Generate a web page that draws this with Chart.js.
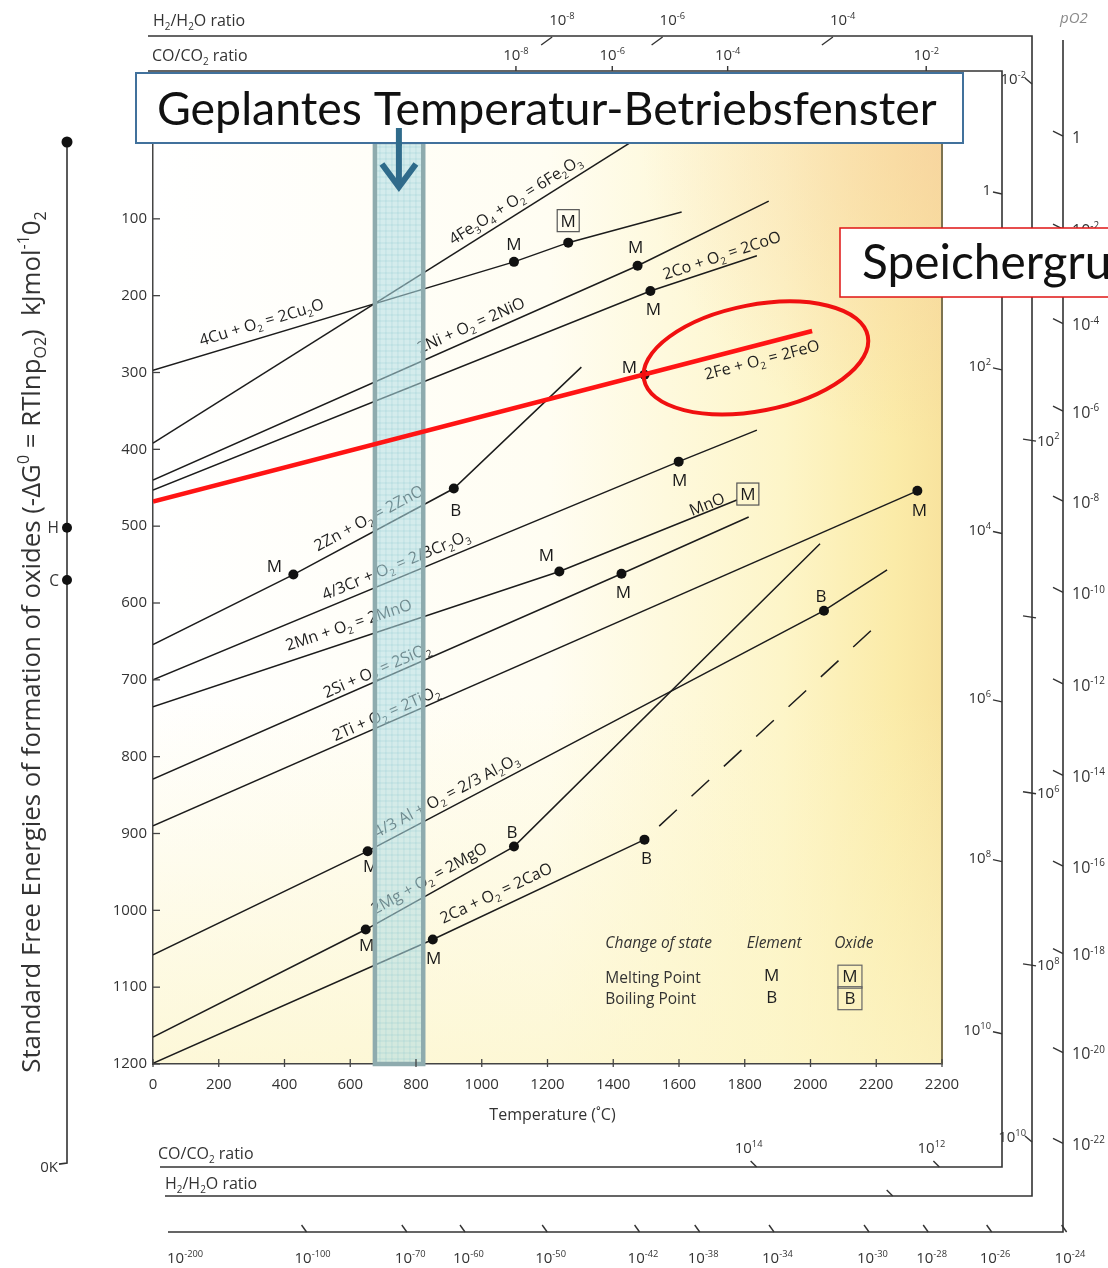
<!DOCTYPE html>
<html>
<head>
<meta charset="utf-8">
<script src="https://cdn.jsdelivr.net/npm/chart.js@4.4.1/dist/chart.umd.min.js"></script>
<style>
  html, body { margin: 0; padding: 0; background: #fff; }
  #wrap { width: 1108px; height: 1268px; }
</style>
</head>
<body>
<div id="wrap"><canvas id="c" width="1108" height="1268"></canvas></div>
<script>
"use strict";

// ---- data (temperature °C, -ΔG kJ/mol O2) ----
const xTicks = [0, 200, 400, 600, 800, 1000, 1200, 1400, 1600, 1800, 2000, 2200, 2400];
const xTickLabels = ["0", "200", "400", "600", "800", "1000", "1200", "1400", "1600", "1800", "2000", "2200", "2200"];
const yTicks = [0, 100, 200, 300, 400, 500, 600, 700, 800, 900, 1000, 1100, 1200];

const cu = [[0, 297], [1098, 156], [1263, 131], [1608, 91]];
const fe3o4 = [[0, 392], [1492, -10]];
const ni = [[0, 440], [1474, 161], [1873, 77]];
const co = [[0, 453], [1513, 194], [1837, 148]];
const feo = [[0, 468], [2005, 246]];
const zn = [[0, 654], [427, 563], [915, 451], [1303, 293]];
const cr = [[0, 700], [1599, 416], [1837, 375]];
const mn = [[0, 735], [1236, 559], [1776, 466]];
const si = [[0, 829], [1425, 562], [1812, 488]];
const ti = [[0, 890], [2325, 454]];
const al = [[0, 1058], [653, 923], [2041, 610], [2233, 557]];
const mg = [[0, 1165], [647, 1025], [1098, 917], [2029, 523]];
const ca = [[0, 1199], [851, 1038], [1495, 908]];
const caGas = [[1495, 908], [2227, 619]];

// change-of-state points: T, G, tag, boxed (oxide), has dot
const changePoints = [
  [1098, 156, "M", 0, 1], [1263, 131, "M", 1, 1], [1474, 161, "M", 0, 1], [1513, 194, "M", 0, 1],
  [1495, 303, "M", 0, 1], [427, 563, "M", 0, 1], [915, 451, "B", 0, 1], [1599, 416, "M", 0, 1],
  [1236, 559, "M", 0, 1], [1425, 562, "M", 0, 1], [1776, 466, "M", 1, 0], [2325, 454, "M", 0, 1],
  [653, 923, "M", 0, 1], [2041, 610, "B", 0, 1], [647, 1025, "M", 0, 1], [1098, 917, "B", 0, 1],
  [851, 1038, "M", 0, 1], [1495, 908, "B", 0, 1],
];
const tagOffsets = [
  [0, -18], [0, -22], [-2, -19], [3, 18], [-15, -8], [-19, -9], [2, 21], [1, 18],
  [-13, -17], [2, 18], [11, -6], [2, 19], [3, 15], [-3, -15], [1, 15], [-2, -15],
  [1, 18], [2, 18],
];

// reaction labels: text, T, G of label centre, line it follows
const reactions = [
  ["4Cu + O_{2} = 2Cu_{2}O", 330, 234, cu],
  ["4Fe_{3}O_{4} + O_{2} = 6Fe_{2}O_{3}", 1101, 75, fe3o4],
  ["2Ni + O_{2} = 2NiO", 967, 238, ni],
  ["2Co + O_{2} = 2CoO", 1730, 147, co],
  ["2Fe + O_{2} = 2FeO", 1852, 283, feo],
  ["2Zn + O_{2} = 2ZnO", 656, 489, zn],
  ["4/3Cr + O_{2} = 2/3Cr_{2}O_{3}", 738, 550, cr],
  ["2Mn + O_{2} = 2MnO", 595, 628, mn],
  ["MnO", 1685, 471, mn],
  ["2Si + O_{2} = 2SiO_{2}", 680, 687, si],
  ["2Ti + O_{2} = 2TiO_{2}", 708, 743, ti],
  ["4/3 Al + O_{2} = 2/3 Al_{2}O_{3}", 891, 850, al],
  ["2Mg + O_{2} = 2MgO", 839, 958, mg],
  ["2Ca + O_{2} = 2CaO", 1043, 977, ca],
];

// nomographic scales (positions along the frames in T or G units)
const h2TopExp = ["-8", "-6", "-4"];
const h2TopT = [1205, 1541, 2059];
const coTopExp = ["-8", "-6", "-4", "-2"];
const coTopT = [1104, 1397, 1748, 2352];
const coBottomExp = ["14", "12"];
const coBottomT = [1830, 2386];
const h2BottomT = [2244];
const poBottomExp = ["-200", "-100", "-70", "-60", "-50", "-42", "-38", "-34", "-30", "-28", "-26", "-24"];
const poBottomT = [76, 464, 769, 946, 1196, 1477, 1660, 1886, 2175, 2355, 2548, 2776];
const coRightExp = ["", "2", "4", "6", "8", "10"];
const coRightG = [65, 294, 507, 726, 934, 1158];
const h2RightExp = ["-2", "2", "", "6", "8", "10"];
const h2RightG = [-78, 388, 618, 847, 1071, 1299];
const h2RightSide = ["L", "R", "R", "R", "R", "L"];
const poRightExp = ["", "-2", "-4", "-6", "-8", "-10", "-12", "-14", "-16", "-18", "-20", "-22"];
const poRightG = [-9, 112, 235, 349, 466, 585, 704, 823, 941, 1055, 1184, 1302];
const nomoTags = ["H", "C"];
const nomoG = [502, 570];
const nomoEndG = [0, 1329];

const legendHeads = ["Change of state", "Element", "Oxide"];
const legendHeadT = [1376, 1806, 2072];
const legendHeadG = 1042;
const legendRows = ["Melting Point", "Boiling Point"];
const legendRowG = [1087, 1115];
const legendTags = ["M", "B"];
const legendTagT = [1882, 2120];

const bandT = [675, 822];
const arrowT = 748;
const ellipseCenter = [1834, 281];

// ---- layout of decorations (pixels) ----
const frame = {
  h2Top: 36, coTop: 71, coRight: 1002, h2Right: 1032, poRight: 1063,
  coBottom: 1167, h2Bottom: 1196, poBottom: 1232, poTop: 40,
  nomoX: 67,
};

const FAM = '"Open Sans", "DejaVu Sans", sans-serif';
const INK = "#222";

const parseRich = (s) => {
  const out = [];
  const re = /([_^])\{([^}]*)\}/g;
  let last = 0, m;
  while ((m = re.exec(s))) {
    if (m.index > last) out.push({ t: s.slice(last, m.index), k: "" });
    out.push({ t: m[2], k: m[1] });
    last = re.lastIndex;
  }
  if (last < s.length) out.push({ t: s.slice(last), k: "" });
  return out;
};

const rich = (ctx, s, x, y, o = {}) => {
  const size = o.size || 15;
  const style = o.style || "";
  const fam = o.family || FAM;
  const runs = parseRich(s);
  const fontFor = (r) => `${style} ${r.k ? size * 0.62 : size}px ${fam}`;
  let w = 0;
  runs.forEach((r) => { ctx.font = fontFor(r); w += ctx.measureText(r.t).width; });
  ctx.save();
  ctx.translate(x, y);
  ctx.rotate(o.angle || 0);
  ctx.fillStyle = o.color || INK;
  ctx.textAlign = "left";
  ctx.textBaseline = "alphabetic";
  let cx = o.align === "center" ? -w / 2 : o.align === "right" ? -w : 0;
  const base = size * 0.36;
  runs.forEach((r) => {
    ctx.font = fontFor(r);
    const dy = r.k === "_" ? size * 0.24 : r.k === "^" ? -size * 0.42 : 0;
    ctx.fillText(r.t, cx, base + dy);
    cx += ctx.measureText(r.t).width;
  });
  ctx.restore();
  return w;
};

const pow = (e) => (e === "" ? "1" : `10^{${e}}`);

const line = (ctx, x1, y1, x2, y2) => {
  ctx.beginPath();
  ctx.moveTo(x1, y1);
  ctx.lineTo(x2, y2);
  ctx.stroke();
};

const slopeAngle = (chart, pts, t) => {
  const { x, y } = chart.scales;
  let i = 0;
  while (i < pts.length - 2 && t > pts[i + 1][0]) i++;
  const a = pts[i], b = pts[i + 1];
  return Math.atan2(y.getPixelForValue(b[1]) - y.getPixelForValue(a[1]),
    x.getPixelForValue(b[0]) - x.getPixelForValue(a[0]));
};

const drawLabelsAndBand = (chart) => {
  const { ctx, chartArea: ca } = chart;
  const { x, y } = chart.scales;

  reactions.forEach(([text, t, g, pts]) => {
    rich(ctx, text, x.getPixelForValue(t), y.getPixelForValue(g),
      { size: 16, align: "center", angle: slopeAngle(chart, pts, t), color: "#1e1e1e" });
  });

  changePoints.forEach(([t, g, tag, boxed], i) => {
    const px = x.getPixelForValue(t) + tagOffsets[i][0];
    const py = y.getPixelForValue(g) + tagOffsets[i][1];
    rich(ctx, tag, px, py, { size: 17, align: "center", color: "#1a1a1a" });
    if (boxed) {
      ctx.strokeStyle = "#555";
      ctx.lineWidth = 1.2;
      ctx.strokeRect(px - 11, py - 11, 22, 22);
    }
  });

  // legend
  legendHeads.forEach((h, i) => {
    rich(ctx, h, x.getPixelForValue(legendHeadT[i]), y.getPixelForValue(legendHeadG),
      { size: 15.5, style: "italic", color: "#333" });
  });
  legendRows.forEach((r, i) => {
    const py = y.getPixelForValue(legendRowG[i]);
    rich(ctx, r, x.getPixelForValue(legendHeadT[0]), py, { size: 15.5, color: "#333" });
    rich(ctx, legendTags[i], x.getPixelForValue(legendTagT[0]), py - 2, { size: 17, align: "center", color: "#222" });
    const bx = x.getPixelForValue(legendTagT[1]);
    rich(ctx, legendTags[i], bx, py - 1, { size: 17, align: "center", color: "#222" });
    ctx.strokeStyle = "#666";
    ctx.lineWidth = 1.2;
    ctx.strokeRect(bx - 12, py - 12, 24, 23);
  });

  // operating temperature window
  const x1 = x.getPixelForValue(bandT[0]);
  const x2 = x.getPixelForValue(bandT[1]);
  ctx.save();
  ctx.fillStyle = "rgba(176,221,228,0.55)";
  ctx.fillRect(x1, ca.top, x2 - x1, ca.bottom - ca.top);
  ctx.strokeStyle = "rgba(120,190,200,0.35)";
  ctx.lineWidth = 0.7;
  for (let gx = x1 + 5; gx < x2; gx += 6) line(ctx, gx, ca.top, gx, ca.bottom);
  for (let gy = ca.top + 5; gy < ca.bottom; gy += 6) line(ctx, x1, gy, x2, gy);
  ctx.strokeStyle = "#8eabae";
  ctx.lineWidth = 4.5;
  ctx.strokeRect(x1, ca.top, x2 - x1, ca.bottom - ca.top);
  ctx.restore();
};

const deco = {
  id: "deco",
  beforeDraw(chart) {
    const { ctx, chartArea: ca } = chart;
    const w = ca.right - ca.left, h = ca.bottom - ca.top;
    ctx.save();
    let g = ctx.createLinearGradient(ca.left, 0, ca.right, 0);
    g.addColorStop(0, "#ffffff");
    g.addColorStop(0.5, "#fffdf2");
    g.addColorStop(0.8, "#fdf5c8");
    g.addColorStop(0.94, "#fbeba8");
    g.addColorStop(1, "#f8e39e");
    ctx.fillStyle = g;
    ctx.fillRect(ca.left, ca.top, w, h);
    g = ctx.createRadialGradient(ca.right, ca.top, 0, ca.right, ca.top, 300);
    g.addColorStop(0, "rgba(247,205,160,0.6)");
    g.addColorStop(1, "rgba(247,205,160,0)");
    ctx.fillStyle = g;
    ctx.fillRect(ca.left, ca.top, w, h);
    g = ctx.createLinearGradient(0, ca.top + h * 0.6, 0, ca.bottom);
    g.addColorStop(0, "rgba(252,245,200,0)");
    g.addColorStop(1, "rgba(252,245,200,0.7)");
    ctx.fillStyle = g;
    ctx.fillRect(ca.left, ca.top, w, h);
    ctx.restore();
  },
  beforeDatasetDraw(chart, args) {
    if (args.index === 0) drawLabelsAndBand(chart);
  },
  afterDatasetsDraw(chart) {
    const { ctx, chartArea: ca } = chart;
    const { x, y } = chart.scales;
    ctx.save();

    // right border of the plot and tick marks
    ctx.strokeStyle = "#7d7350";
    ctx.lineWidth = 2;
    line(ctx, ca.right, ca.top, ca.right, ca.bottom);
    ctx.strokeStyle = "#444";
    ctx.lineWidth = 1.3;
    xTicks.forEach((v) => { const px = x.getPixelForValue(v); line(ctx, px, ca.bottom - 5, px, ca.bottom + 3); });
    yTicks.forEach((v) => { const py = y.getPixelForValue(v); line(ctx, ca.left, py, ca.left + 7, py); });

    // highlighted ellipse
    ctx.strokeStyle = "#f01010";
    ctx.lineWidth = 4;
    ctx.beginPath();
    ctx.ellipse(x.getPixelForValue(ellipseCenter[0]), y.getPixelForValue(ellipseCenter[1]),
      114, 53, -11 * Math.PI / 180, 0, Math.PI * 2);
    ctx.stroke();

    // x axis title
    rich(ctx, "Temperature (˚C)", (ca.left + ca.right) / 2 + 5, ca.bottom + 50, { size: 16, align: "center", color: "#333" });

    // y axis title
    const yTitle = "Standard Free Energies of formation of oxides (-ΔG^{0} = RTlnp_{O2})  kJmol^{-1}0_{2}";
    const tw = rich(ctx, yTitle, -9999, -9999, { size: 21 });
    rich(ctx, yTitle, 31, 642, { size: 21 * 862 / tw, align: "center", angle: -Math.PI / 2, color: "#333" });

    // nomogram frames
    ctx.strokeStyle = "#333";
    ctx.lineWidth = 1.6;
    const f = frame;
    ctx.beginPath();
    ctx.moveTo(148, f.h2Top); ctx.lineTo(f.h2Right, f.h2Top); ctx.lineTo(f.h2Right, f.h2Bottom); ctx.lineTo(165, f.h2Bottom);
    ctx.moveTo(148, f.coTop); ctx.lineTo(f.coRight, f.coTop); ctx.lineTo(f.coRight, f.coBottom); ctx.lineTo(160, f.coBottom);
    ctx.moveTo(f.poRight, f.poTop); ctx.lineTo(f.poRight, f.poBottom); ctx.lineTo(168, f.poBottom);
    ctx.stroke();

    rich(ctx, "H_{2}/H_{2}O ratio", 153, 20, { size: 16, color: "#333" });
    rich(ctx, "CO/CO_{2} ratio", 152, 55, { size: 16, color: "#333" });
    rich(ctx, "CO/CO_{2} ratio", 158, 1153, { size: 16, color: "#333" });
    rich(ctx, "H_{2}/H_{2}O ratio", 165, 1183, { size: 16, color: "#333" });
    rich(ctx, "pO2", 1060, 18, { size: 15, style: "italic", color: "#8a8a8a" });

    ctx.lineWidth = 1.4;
    const ts = { size: 15, color: "#333" };
    h2TopT.forEach((t, i) => {
      const px = x.getPixelForValue(t);
      line(ctx, px - 8, f.h2Top + 9, px + 3, f.h2Top + 1);
      rich(ctx, pow(h2TopExp[i]), px, f.h2Top - 16, ts);
    });
    coTopT.forEach((t, i) => {
      const px = x.getPixelForValue(t);
      line(ctx, px, f.coTop - 5, px, f.coTop);
      rich(ctx, pow(coTopExp[i]), px, f.coTop - 16, { ...ts, align: "center" });
    });
    coBottomT.forEach((t, i) => {
      const px = x.getPixelForValue(t);
      line(ctx, px - 4, f.coBottom - 6, px + 2, f.coBottom);
      rich(ctx, pow(coBottomExp[i]), px - 6, f.coBottom - 19, { ...ts, align: "center" });
    });
    h2BottomT.forEach((t) => {
      const px = x.getPixelForValue(t);
      line(ctx, px - 4, f.h2Bottom - 6, px + 2, f.h2Bottom);
    });
    poBottomT.forEach((t, i) => {
      const px = x.getPixelForValue(t);
      if (i > 0) line(ctx, px - 4, f.poBottom - 7, px + 1, f.poBottom);
      rich(ctx, pow(poBottomExp[i]), px - 11, f.poBottom + 26, ts);
    });
    coRightG.forEach((g, i) => {
      const py = y.getPixelForValue(g);
      line(ctx, f.coRight - 9, py, f.coRight, py + 2);
      rich(ctx, pow(coRightExp[i]), f.coRight - 11, py - 2, { ...ts, align: "right" });
    });
    h2RightG.forEach((g, i) => {
      const py = y.getPixelForValue(g);
      if (h2RightSide[i] === "R") {
        line(ctx, f.h2Right - 9, py - 1, f.h2Right + 4, py + 1);
        if (h2RightExp[i]) rich(ctx, pow(h2RightExp[i]), f.h2Right + 5, py, ts);
      } else {
        line(ctx, f.h2Right - 7, py - 4, f.h2Right, py + 2);
        rich(ctx, pow(h2RightExp[i]), f.h2Right - 6, py - 3, { ...ts, align: "right" });
      }
    });
    poRightG.forEach((g, i) => {
      const py = y.getPixelForValue(g);
      line(ctx, f.poRight - 10, py - 4, f.poRight, py + 1);
      rich(ctx, pow(poRightExp[i]), f.poRight + 9, py + 2, { ...ts, size: 16 });
    });

    // left pivot line
    const y0 = y.getPixelForValue(nomoEndG[0]);
    const y1 = y.getPixelForValue(nomoEndG[1]);
    ctx.lineWidth = 1.6;
    ctx.beginPath();
    ctx.moveTo(f.nomoX, y0); ctx.lineTo(f.nomoX, y1); ctx.lineTo(f.nomoX - 8, y1 + 1);
    ctx.stroke();
    rich(ctx, "0K", f.nomoX - 9, y1 + 3, { size: 15, align: "right", color: "#333" });
    ctx.fillStyle = "#111";
    ctx.beginPath(); ctx.arc(f.nomoX, y0, 5.5, 0, Math.PI * 2); ctx.fill();
    nomoG.forEach((g, i) => {
      const py = y.getPixelForValue(g);
      ctx.fillStyle = "#111";
      ctx.beginPath(); ctx.arc(f.nomoX, py, 5, 0, Math.PI * 2); ctx.fill();
      rich(ctx, nomoTags[i], f.nomoX - 8, py, { size: 15.5, align: "right", color: "#333" });
    });

    // arrow into the window
    const ax = x.getPixelForValue(arrowT);
    ctx.strokeStyle = "#2f6b8b";
    ctx.lineWidth = 6;
    ctx.lineCap = "butt";
    line(ctx, ax, 128, ax, 188);
    ctx.lineJoin = "miter";
    ctx.beginPath();
    ctx.moveTo(ax - 17, 164); ctx.lineTo(ax, 187); ctx.lineTo(ax + 17, 164);
    ctx.stroke();

    // title box
    ctx.fillStyle = "#fff";
    ctx.fillRect(136, 73, 827, 70);
    ctx.strokeStyle = "#41719c";
    ctx.lineWidth = 2;
    ctx.strokeRect(136, 73, 827, 70);
    const tf = '"Lato", "Noto Sans", sans-serif';
    ctx.font = `40px ${tf}`;
    const title = "Geplantes Temperatur-Betriebsfenster";
    const fs = 40 * 780 / ctx.measureText(title).width;
    ctx.font = `${fs}px ${tf}`;
    ctx.fillStyle = "#111";
    ctx.textAlign = "left";
    ctx.textBaseline = "alphabetic";
    ctx.fillText(title, 157, 125);
    ctx.strokeStyle = "#2f6b8b";
    ctx.lineWidth = 6;
    line(ctx, ax, 128, ax, 146);

    // storage box
    ctx.fillStyle = "#fff";
    ctx.fillRect(840, 228, 300, 69);
    ctx.strokeStyle = "#e01515";
    ctx.lineWidth = 1.5;
    ctx.strokeRect(840, 228, 300, 69);
    ctx.font = `${fs * 1.03}px ${tf}`;
    ctx.fillStyle = "#111";
    ctx.fillText("Speichergrund", 862, 279);

    ctx.restore();
  },
};

const pts = (arr) => arr.map(([t, g]) => ({ x: t, y: g }));
const lineSet = (label, arr, extra = {}) => ({
  label, data: pts(arr), showLine: true, borderColor: "#1c1c1c", borderWidth: 1.5,
  pointRadius: 0, fill: false, tension: 0, ...extra,
});

new Chart(document.getElementById("c"), {
  type: "scatter",
  data: {
    datasets: [
      lineSet("2FeO", feo, { borderColor: "#ff1414", borderWidth: 4.5 }),
      {
        label: "change of state",
        data: changePoints.filter((p) => p[4]).map(([t, g]) => ({ x: t, y: g })),
        pointRadius: 5, pointBackgroundColor: "#111", pointBorderWidth: 0, showLine: false,
      },
      lineSet("2Cu2O", cu),
      lineSet("6Fe2O3", fe3o4),
      lineSet("2NiO", ni),
      lineSet("2CoO", co),
      lineSet("2ZnO", zn),
      lineSet("2/3Cr2O3", cr),
      lineSet("2MnO", mn),
      lineSet("2SiO2", si),
      lineSet("2TiO2", ti),
      lineSet("2/3Al2O3", al),
      lineSet("2MgO", mg),
      lineSet("2CaO", ca),
      lineSet("2CaO (gas)", caGas, { borderDash: [24, 20], borderDashOffset: 24 }),
    ],
  },
  options: {
    responsive: false,
    animation: false,
    layout: { padding: { left: 103, right: 166, top: 142, bottom: 154 } },
    plugins: { legend: { display: false }, tooltip: { enabled: false } },
    scales: {
      x: {
        type: "linear", min: 0, max: 2400,
        afterBuildTicks: (s) => { s.ticks = xTicks.map((v) => ({ value: v })); },
        afterFit: (s) => { s.height = 50; },
        ticks: {
          callback: (v, i) => xTickLabels[i], autoSkip: false, maxRotation: 0,
          font: { size: 15, family: FAM }, color: "#333", padding: 12,
        },
        grid: { display: false, drawTicks: false },
        border: { display: true, color: "#444", width: 1.5 },
      },
      y: {
        type: "linear", min: 0, max: 1200, reverse: true,
        afterBuildTicks: (s) => { s.ticks = yTicks.map((v) => ({ value: v })); },
        afterFit: (s) => { s.width = 50; },
        ticks: {
          callback: (v) => (v === 0 ? "" : String(v)),
          font: { size: 15, family: FAM }, color: "#333", padding: 6,
        },
        grid: { display: false, drawTicks: false },
        border: { display: true, color: "#444", width: 1.5 },
      },
    },
  },
  plugins: [deco],
});
</script>
</body>
</html>
